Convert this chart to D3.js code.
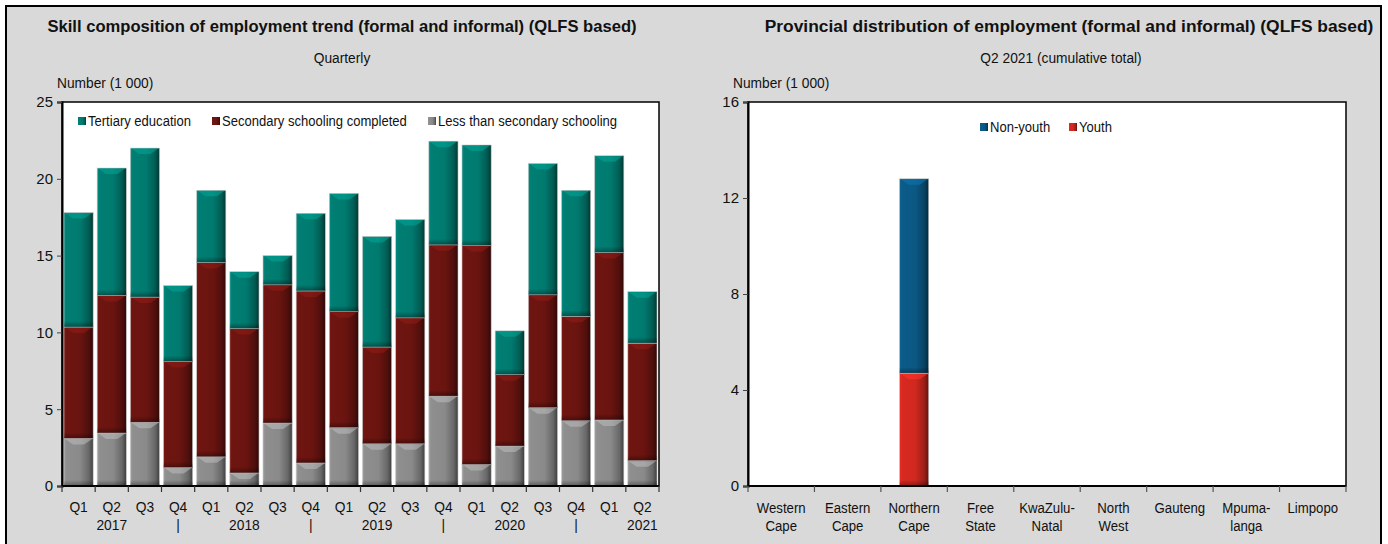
<!DOCTYPE html>
<html><head><meta charset="utf-8">
<script src="https://cdn.jsdelivr.net/npm/d3@7"></script>
<style>
body{margin:0;background:#fff;}
text{font-family:"Liberation Sans Narrow","Arial Narrow","Liberation Sans",sans-serif;fill:#111;}
</style></head>
<body><svg id="c" width="1388" height="544"></svg>
<script>
// ---------- data ----------
const quarters = ["Q1","Q2","Q3","Q4","Q1","Q2","Q3","Q4","Q1","Q2","Q3","Q4","Q1","Q2","Q3","Q4","Q1","Q2"];
const yearLabels = ["","2017","","|","","2018","","|","","2019","","|","","2020","","|","","2021"];
const lessThanSecondary = [3.1,3.45,4.15,1.2,1.9,0.85,4.1,1.5,3.8,2.75,2.75,5.85,1.4,2.6,5.1,4.25,4.3,1.65];
const secondaryCompleted = [7.25,8.95,8.15,6.9,12.65,9.4,9.0,11.2,7.55,6.3,8.2,9.85,14.25,4.65,7.35,6.8,10.9,7.65];
const tertiaryEducation = [7.45,8.3,9.7,4.95,4.7,3.7,1.9,5.05,7.7,7.2,6.4,6.75,6.55,2.85,8.55,8.2,6.3,3.35];
const leftTicks = [0,5,10,15,20,25];

const provinces = [["Western","Cape"],["Eastern","Cape"],["Northern","Cape"],["Free","State"],["KwaZulu-","Natal"],["North","West"],["Gauteng",""],["Mpuma-","langa"],["Limpopo",""]];
const youth = [0,0,4.7,0,0,0,0,0,0];
const nonYouth = [0,0,8.1,0,0,0,0,0,0];
const rightTicks = [0,4,8,12,16];

// ---------- setup ----------
const svg = d3.select("#c");
const defs = svg.append("defs");
svg.append("rect").attr("x",6).attr("y",6).attr("width",1375).attr("height",560)
  .attr("fill","#d9d9d9").attr("stroke","#000").attr("stroke-width",2);

function makeGrad(id, base){
  const c = d3.color(base);
  const g = defs.append("linearGradient").attr("id",id).attr("x1","0").attr("x2","1").attr("y1","0").attr("y2","0");
  g.append("stop").attr("offset","0").attr("stop-color", c.brighter(0.4));
  g.append("stop").attr("offset","0.08").attr("stop-color", c.brighter(0.1));
  g.append("stop").attr("offset","0.55").attr("stop-color", base);
  g.append("stop").attr("offset","0.85").attr("stop-color", c.darker(0.8));
  g.append("stop").attr("offset","1").attr("stop-color", c.darker(2.2));
}
const vshade = defs.append("linearGradient").attr("id","vshade").attr("x1","0").attr("x2","0").attr("y1","0").attr("y2","1");
vshade.append("stop").attr("offset","0").attr("stop-color","#000").attr("stop-opacity",0);
vshade.append("stop").attr("offset","1").attr("stop-color","#000").attr("stop-opacity",0.35);

function label(parent, x, y, str, opts){
  opts = opts || {};
  const sx = opts.sx || 1;
  const t = parent.append("text")
    .attr("transform", `translate(${x},${y}) scale(${sx},1)`)
    .attr("text-anchor", opts.anchor || "start")
    .attr("font-size", opts.size || 14)
    .text(str);
  if (opts.bold) t.attr("font-weight","bold");
  return t;
}

function drawSeg(g, x, w, y0, y1, id, base){
  const h = y1 - y0;
  if (h <= 0.2) return;
  g.append("rect").attr("x",x).attr("y",y0).attr("width",w).attr("height",h)
    .attr("fill",`url(#${id})`).attr("stroke","#c8c8c8").attr("stroke-width",0.6);
  const bh = Math.min(6, h/2);
  g.append("path").attr("d",`M${x+1},${y0+0.5}L${x+w-1},${y0+0.5}L${x+w-9},${y0+bh}L${x+9},${y0+bh}Z`)
    .attr("fill", d3.color(base).brighter(0.9)).attr("opacity",0.55);
  g.append("rect").attr("x",x).attr("y",y1-Math.min(6,h/2)).attr("width",w).attr("height",Math.min(6,h/2))
    .attr("fill","url(#vshade)");
}

// ---------- LEFT CHART ----------
const colTert = "#007a6f", colSec = "#6a1410", colLess = "#8a8a8a";
makeGrad("gTert", colTert); makeGrad("gSec", colSec); makeGrad("gLess", colLess);

const L = {x0:62, x1:659, y0:102, y1:486};
const xL = d3.scaleBand().domain(d3.range(quarters.length)).range([L.x0,L.x1]).paddingInner(0.12).paddingOuter(0.06);
const yL = d3.scaleLinear().domain([0,25]).range([L.y1,L.y0]);
const gl = svg.append("g");
gl.append("rect").attr("x",L.x0).attr("y",L.y0).attr("width",L.x1-L.x0).attr("height",L.y1-L.y0)
  .attr("fill","#fff").attr("stroke","#000").attr("stroke-width",1.5);

const seriesL = [
  {vals:lessThanSecondary, id:"gLess", col:colLess},
  {vals:secondaryCompleted, id:"gSec", col:colSec},
  {vals:tertiaryEducation, id:"gTert", col:colTert}
];
quarters.forEach((q,i)=>{
  let cum = 0;
  seriesL.forEach(s=>{
    const v = s.vals[i];
    drawSeg(gl, xL(i), xL.bandwidth(), yL(cum+v), yL(cum), s.id, s.col);
    cum += v;
  });
});

const yAxL = gl.append("g").attr("transform",`translate(${L.x0},0)`)
  .call(d3.axisLeft(yL).tickValues(leftTicks).tickSize(5).tickPadding(4));
yAxL.select(".domain").attr("stroke","#000").attr("stroke-width",2);
yAxL.selectAll(".tick line").attr("stroke","#444");
yAxL.selectAll(".tick text").attr("font-size",15).style("font-family",'"Liberation Sans",sans-serif').attr("fill","#111");

const bounds = d3.range(quarters.length+1).map(i=> L.x0 + (L.x1-L.x0)*i/quarters.length);
gl.append("line").attr("x1",L.x0).attr("x2",L.x1).attr("y1",L.y1).attr("y2",L.y1).attr("stroke","#000").attr("stroke-width",2);
gl.selectAll(".xt").data(bounds).enter().append("line").attr("x1",d=>d).attr("x2",d=>d)
  .attr("y1",L.y1).attr("y2",L.y1+6).attr("stroke","#333").attr("stroke-width",1.2);
quarters.forEach((q,i)=>{
  const cx = xL(i)+xL.bandwidth()/2;
  label(gl, cx, 512, q, {anchor:"middle", size:15, sx:0.92});
  if (yearLabels[i]) label(gl, cx, 530, yearLabels[i], {anchor:"middle", size:15, sx:0.92});
});

label(svg, 342, 32, "Skill composition of employment trend (formal and informal) (QLFS based)", {anchor:"middle", size:16.6, bold:true});
label(svg, 342, 63, "Quarterly", {anchor:"middle", size:14.5, sx:0.95});
label(svg, 57, 88, "Number (1 000)", {size:14.5, sx:0.95});

const legL = [
  {label:"Tertiary education", id:"gTert", x:78},
  {label:"Secondary schooling completed", id:"gSec", x:212},
  {label:"Less than secondary schooling", id:"gLess", x:428}
];
legL.forEach(d=>{
  svg.append("rect").attr("x",d.x).attr("y",117).attr("width",8).attr("height",8).attr("fill",`url(#${d.id})`);
  label(svg, d.x+10, 126, d.label, {size:15, sx:0.87});
});

// ---------- RIGHT CHART ----------
const colNon = "#0b5883", colYouth = "#d0281f";
makeGrad("gNon", colNon); makeGrad("gYouth", colYouth);
const R = {x0:748, x1:1346, y0:102, y1:486};
const xR = d3.scaleBand().domain(d3.range(provinces.length)).range([R.x0,R.x1]).paddingInner(0.56).paddingOuter(0.28);
const yR = d3.scaleLinear().domain([0,16]).range([R.y1,R.y0]);
const gr = svg.append("g");
gr.append("rect").attr("x",R.x0).attr("y",R.y0).attr("width",R.x1-R.x0).attr("height",R.y1-R.y0)
  .attr("fill","#fff").attr("stroke","#000").attr("stroke-width",1.5);
const seriesR = [
  {vals:youth, id:"gYouth", col:colYouth},
  {vals:nonYouth, id:"gNon", col:colNon}
];
provinces.forEach((p,i)=>{
  let cum = 0;
  seriesR.forEach(s=>{
    const v = s.vals[i];
    drawSeg(gr, xR(i), xR.bandwidth(), yR(cum+v), yR(cum), s.id, s.col);
    cum += v;
  });
});
const yAxR = gr.append("g").attr("transform",`translate(${R.x0},0)`)
  .call(d3.axisLeft(yR).tickValues(rightTicks).tickSize(5).tickPadding(4));
yAxR.select(".domain").attr("stroke","#000").attr("stroke-width",2);
yAxR.selectAll(".tick line").attr("stroke","#444");
yAxR.selectAll(".tick text").attr("font-size",15).style("font-family",'"Liberation Sans",sans-serif').attr("fill","#111");
const boundsR = d3.range(provinces.length+1).map(i=> R.x0 + (R.x1-R.x0)*i/provinces.length);
gr.append("line").attr("x1",R.x0).attr("x2",R.x1).attr("y1",R.y1).attr("y2",R.y1).attr("stroke","#000").attr("stroke-width",2);
gr.selectAll(".xt").data(boundsR).enter().append("line").attr("x1",d=>d).attr("x2",d=>d)
  .attr("y1",R.y1).attr("y2",R.y1+6).attr("stroke","#555").attr("stroke-width",1.2);
provinces.forEach((p,i)=>{
  const cx = xR(i)+xR.bandwidth()/2;
  label(gr, cx, 513, p[0], {anchor:"middle", size:15, sx:0.88});
  if (p[1]) label(gr, cx, 531, p[1], {anchor:"middle", size:15, sx:0.88});
});
label(svg, 1069, 32, "Provincial distribution of employment (formal and informal) (QLFS based)", {anchor:"middle", size:17.4, bold:true});
label(svg, 1061, 63, "Q2  2021 (cumulative total)", {anchor:"middle", size:14.5, sx:0.95});
label(svg, 733, 88, "Number (1 000)", {size:14.5, sx:0.95});
const legR = [
  {label:"Non-youth", id:"gNon", x:980},
  {label:"Youth", id:"gYouth", x:1069}
];
legR.forEach(d=>{
  svg.append("rect").attr("x",d.x).attr("y",123).attr("width",8).attr("height",8).attr("fill",`url(#${d.id})`);
  label(svg, d.x+10, 132, d.label, {size:15, sx:0.87});
});
</script></body></html>
